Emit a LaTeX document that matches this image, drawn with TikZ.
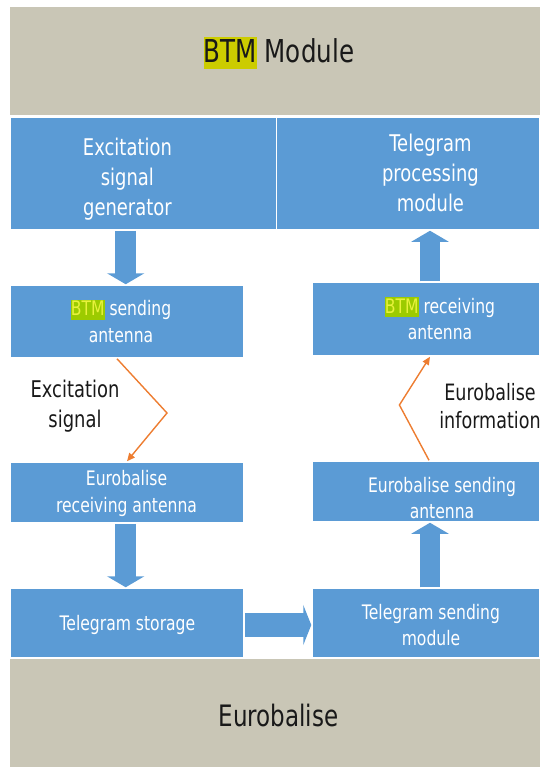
\documentclass[tikz,border=0pt]{standalone}
\usepackage{fontspec}
\setmainfont{DejaVu Sans}[FakeStretch=0.78]
\usetikzlibrary{arrows.meta,calc}

\definecolor{panel}{HTML}{C9C6B6}
\definecolor{boxblue}{HTML}{5B9BD5}
\definecolor{signal}{HTML}{ED7D31}
\definecolor{hlyellow}{HTML}{CCCC00}
\definecolor{hlgreen}{HTML}{9CCB00}
\definecolor{hltext}{HTML}{E8F23C}

% highlighted "BTM" tags
\newcommand{\hltop}[1]{{\setlength{\fboxsep}{0pt}\colorbox{hlyellow}{\rule[-0.2em]{0pt}{1.0em}#1}}}
\newcommand{\hlbox}[1]{{\setlength{\fboxsep}{0pt}\colorbox{hlgreen}{\rule[-0.2em]{0pt}{1.0em}\textcolor{hltext}{#1}}}}

\tikzset{
  panelbox/.style={fill=panel, draw=none},
  unit/.style={rectangle, fill=boxblue, draw=white, line width=1.5pt, inner sep=0pt},
  bigtext/.style={text=white, align=center, font=\fontsize{23}{30}\selectfont},
  smalltext/.style={text=white, align=center, font=\fontsize{20}{26.5}\selectfont},
  caption/.style={text=black!90, align=center, font=\fontsize{23}{30}\selectfont},
  flowdown/.style={draw=boxblue, line width=20.6pt, -{Triangle[length=11pt,width=37pt]}},
  flowright/.style={draw=boxblue, line width=24pt, -{Triangle[length=8pt,width=40pt]}},
  wave/.style={draw=signal, line width=1.4pt, -{Triangle[length=8pt,width=7pt]}}
}

\begin{document}
\begin{tikzpicture}[x=1pt, y=-1pt]
\useasboundingbox (0,0) rectangle (540,767);

% grey bands for the two devices
\fill[panel] (10,7) rectangle (540,115);
\fill[panel] (10,659) rectangle (540,767);
\node[font=\fontsize{31.5}{36}\selectfont, text=black!90] (btm) at (279,53) {\hltop{BTM} Module};
\node[font=\fontsize{29.5}{34}\selectfont, text=black!90] (euro) at (278.5,715) {Eurobalise};

% functional blocks
\node[unit, minimum width=266.5pt, minimum height=113pt] (gen) at (143.25,173.5) {};
\node[unit, minimum width=263.5pt, minimum height=113pt] (tpm) at (408.25,173.5) {};
\node[unit, minimum width=234pt, minimum height=73pt] (bsa) at (127,321.5) {};
\node[unit, minimum width=228pt, minimum height=74pt] (bra) at (426,319) {};
\node[unit, minimum width=234pt, minimum height=61pt] (era) at (127,492.5) {};
\node[unit, minimum width=228pt, minimum height=61pt] (esa) at (426,491.5) {};
\node[unit, minimum width=234pt, minimum height=70pt] (tst) at (127,623) {};
\node[unit, minimum width=228pt, minimum height=70pt] (tsm) at (426,623) {};

% block labels
\node[bigtext] (gentxt) at (127.4,179) {Excitation\\signal\\generator};
\node[bigtext] (tpmtxt) at (430.4,173) {Telegram\\processing\\module};
\node[smalltext] (bsatxt) at (121,321) {\hlbox{BTM} sending\\antenna};
\node[smalltext] (bratxt) at (440,318.5) {\hlbox{BTM} receiving\\antenna};
\node[smalltext] (eratxt) at (126.5,493.5) {Eurobalise\\receiving antenna};
\node[smalltext] (esatxt) at (442,498) {Eurobalise sending\\antenna};
\node[smalltext] (tsttxt) at (127.4,625) {Telegram storage};
\node[smalltext] (tsmtxt) at (431,625) {Telegram sending\\module};

% data flow inside the devices
\draw[flowdown] ([xshift=-1.3pt]gen.south -| bsa.north) -- ([xshift=-1.3pt]bsa.north);
\draw[flowdown] ([xshift=-1.3pt]era.south) -- ([xshift=-1.3pt]tst.north);
\draw[flowright] ([yshift=-2pt]tst.east) -- ([yshift=-2pt]tsm.west);
\draw[flowdown] ([xshift=4pt]tsm.north) -- ([xshift=4pt]esa.south);
\draw[flowdown] ([xshift=4pt]bra.north) -- ([xshift=4pt]bra.north |- tpm.south);

% air-gap signals
\coordinate (excbend) at (167,413);
\coordinate (infobend) at (399.4,405);
\draw[wave] ([xshift=-10pt]bsa.south) -- (excbend) -- (era.north);
\draw[wave] ([xshift=3pt]esa.north) -- (infobend) -- ([xshift=4pt]bra.south);
\node[caption] (exclbl) at (75,406.5) {Excitation\\signal};
\node[caption, font=\fontsize{22.5}{28}\selectfont] (infolbl) at (490,406) {Eurobalise\\information};
\end{tikzpicture}
\end{document}
